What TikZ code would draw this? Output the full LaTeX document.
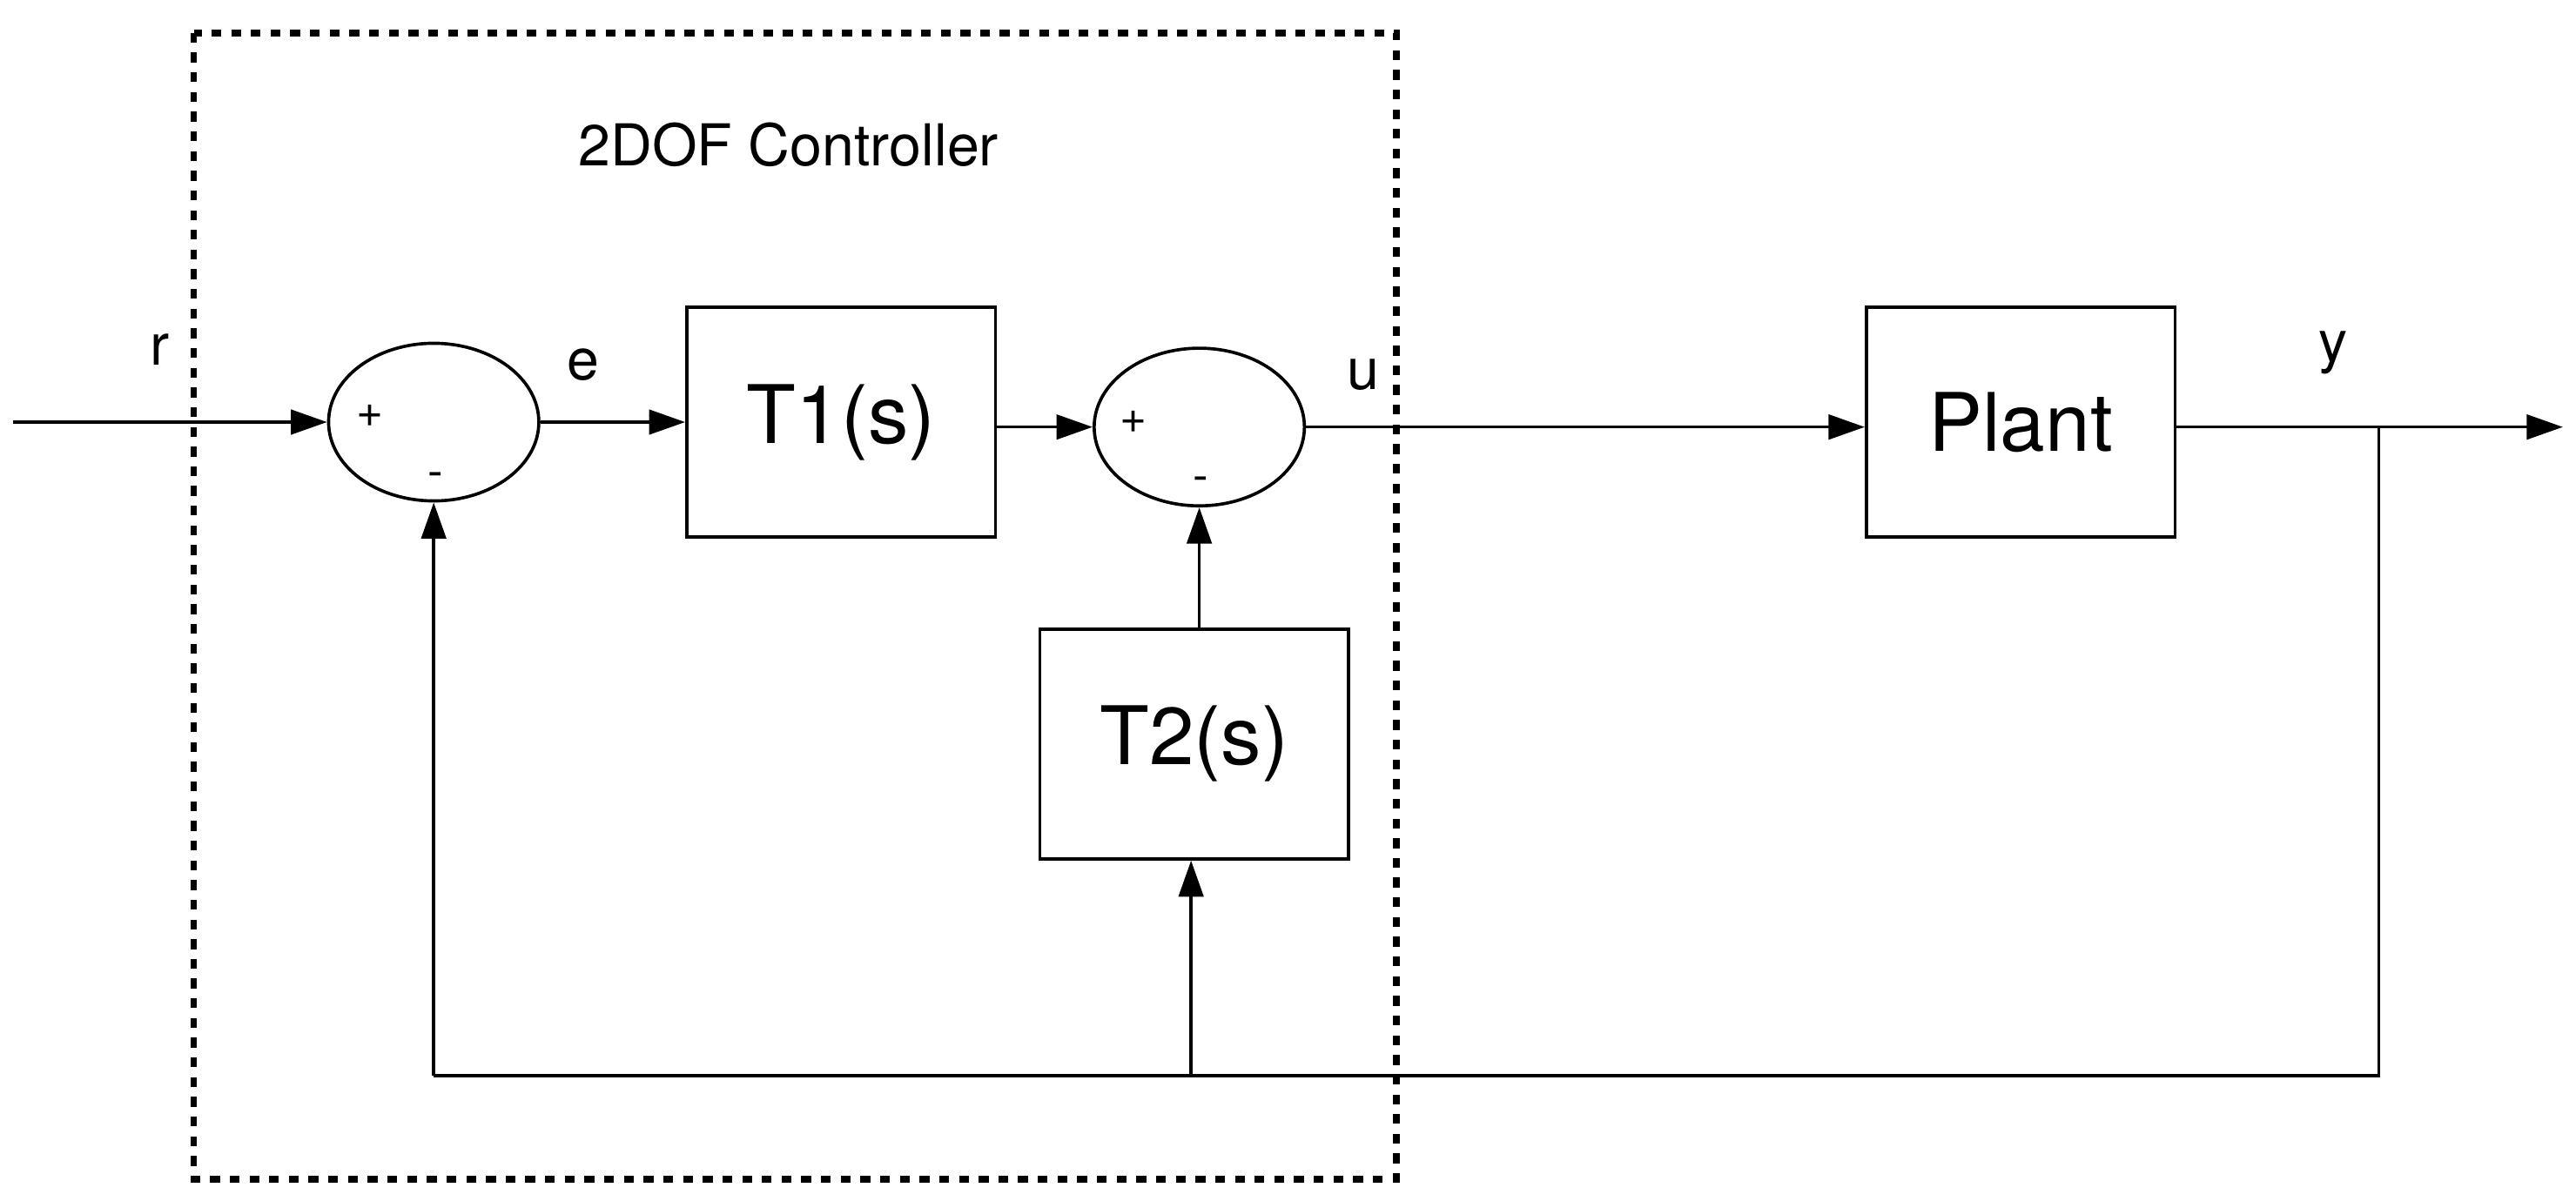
\documentclass[tikz,border=0pt]{standalone}
\usepackage{fontspec}
\setmainfont{TeX Gyre Heros}
\usetikzlibrary{shapes.geometric,arrows.meta}
\begin{document}
\begin{tikzpicture}[x=0.02cm,y=-0.02cm,line width=1.1pt,
  blk/.style={draw,minimum width=3.76cm,minimum height=2.8cm,font=\fontsize{28}{32}\selectfont,inner sep=0},
  sum/.style={draw,ellipse,minimum width=2.56cm,minimum height=1.92cm,inner sep=0},
  arr/.style={-{Triangle[length=0.44cm,width=0.3cm]}},
  lbl/.style={font=\fontsize{20}{24}\selectfont},
  sgn/.style={font=\fontsize{16}{20}\selectfont}]
\useasboundingbox (0,0) rectangle (1568,731);
\draw[line width=2.3pt,dash pattern=on 0.12cm off 0.12cm] (118,20) rectangle (850,718);
\node[lbl] (title) at (480,88) {2DOF Controller};
\node[sum] (s1) at (264,257) {};
\node[sum] (s2) at (730,260) {};
\node[blk] (t1) at (512,257) {T1(s)};
\node[blk] (t2) at (727,453) {T2(s)};
\node[blk] (pl) at (1230,257) {Plant};
\coordinate (in) at (8,257);
\coordinate (out) at (1560,260);
\coordinate (br) at (1448,260);
\coordinate (bl) at (264,655);
\coordinate (brr) at (1448,655);
\coordinate (bm) at (725,655);
\node[lbl] (r) at (97,213) {r};
\node[lbl] (e) at (355,222) {e};
\node[lbl] (u) at (830,228) {u};
\node[lbl] (y) at (1420,215) {y};
\node[sgn] (p1) at (225,253) {+};
\node[sgn] (m1) at (265,292) {-};
\node[sgn] (p2) at (690,257) {+};
\node[sgn] (m2) at (731,295) {-};
\draw[arr] (in) -- (s1.west);
\draw[arr] (s1.east) -- (t1.west);
\draw[arr] (t1.east |- s2.west) -- (s2.west);
\draw[arr] (s2.east) -- (pl.west |- s2.east);
\draw[arr] (pl.east |- out) -- (out);
\draw (br) -- (brr) -- (bl);
\draw[arr] (bl) -- (s1.south);
\draw[arr] (bm) -- (t2.south -| bm);
\draw[arr] (t2.north -| s2.south) -- (s2.south);
\end{tikzpicture}
\end{document}
